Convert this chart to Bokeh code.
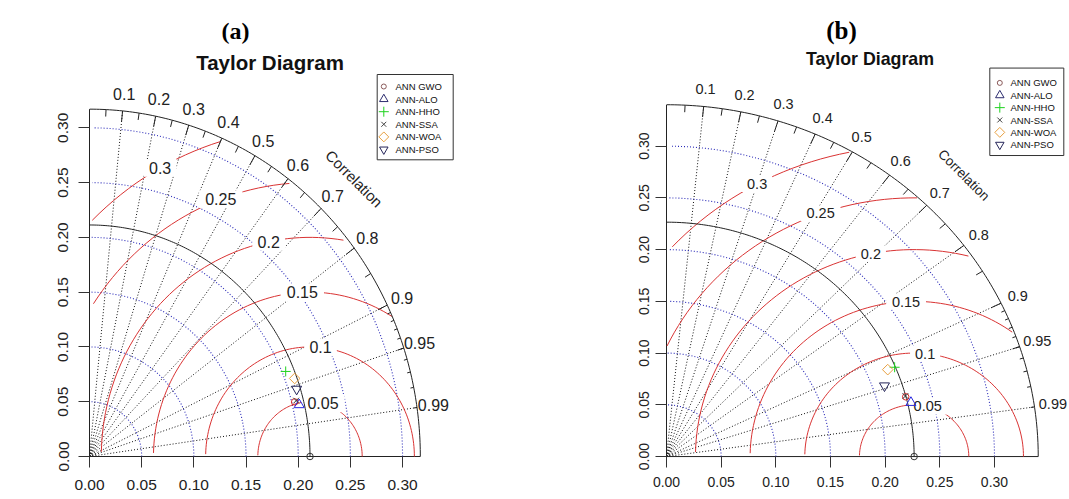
import numpy as np
from bokeh.plotting import figure
from bokeh.layouts import row
from bokeh.models import Label, Range1d, FixedTicker, NumeralTickFormatter
from bokeh.embed import file_html
from bokeh.resources import INLINE
from bokeh.core.properties import value

# ---------------- data ----------------
model_names = ["ANN GWO", "ANN-ALO", "ANN-HHO", "ANN-SSA", "ANN-WOA", "ANN-PSO"]

# panel (a)
ref_sd_a = 0.2113
outer_sd_a = 0.317
model_sd_a = [0.2028, 0.2064, 0.2034, 0.2045, 0.2091, 0.2078]
model_cor_a = [0.9694, 0.9735, 0.9243, 0.9684, 0.9402, 0.9552]

# panel (b)
ref_sd_b = 0.2265
outer_sd_b = 0.340
model_sd_b = [0.2263, 0.2296, 0.2258, 0.2262, 0.2191, 0.2108]
model_cor_b = [0.9669, 0.9738, 0.9241, 0.9660, 0.9236, 0.9459]

sd_ticks = [0.00, 0.05, 0.10, 0.15, 0.20, 0.25, 0.30]
cor_ticks = [0.1, 0.2, 0.3, 0.4, 0.5, 0.6, 0.7, 0.8, 0.9, 0.95, 0.99]
cor_tick_labels = ["0.1", "0.2", "0.3", "0.4", "0.5", "0.6", "0.7", "0.8", "0.9", "0.95", "0.99"]
rms_levels = [0.05, 0.10, 0.15, 0.20, 0.25, 0.30]
rms_labels = ["0.05", "0.1", "0.15", "0.2", "0.25", "0.3"]

# ---------------- styles ----------------
FONT = "Liberation Sans"
marker_styles = [
    dict(marker="circle", size=6.5, angle=0.0, color="#d62828", lcolor="#8a5a5a", lsize=5),
    dict(marker="triangle", size=10, angle=0.0, color="#2a2ae0", lcolor="#2e2e70", lsize=8.5),
    dict(marker="cross", size=10, angle=0.0, color="#1fd21f", lcolor="#1fd21f", lsize=10),
    dict(marker="x", size=8, angle=0.0, color="#333333", lcolor="#444444", lsize=7),
    dict(marker="square", size=7.5, angle=np.pi / 4, color="#e8a040", lcolor="#e8a040", lsize=7),
    dict(marker="inverted_triangle", size=10, angle=0.0, color="#26265a", lcolor="#26265a", lsize=8.5),
]

layout_a = dict(width=540, ox=89, kx=1043.6, oy=456, ky=1095.7, frame_left=84, frame_bottom=461,
                tick_fs="15.5px", xstand=12, ystand=10, corr_fs="16px", gamma_fs="16px", word_fs="15px",
                ylab=(18.3, 263), ylab_fs="16.5px", tag="(a)", tag_pos=(235, 30), tag_fs="24px",
                title_pos=(269.5, 62), title_fs="20.5px",
                leg_box=(376.7, 74, 452.7, 159.3), leg_first=86.0, leg_pitch=12.6,
                leg_mx=383.3, leg_tx=395.0, leg_fs="9.5px")
layout_b = dict(width=529, ox=126, kx=1093.3, oy=461, ky=1046.0, frame_left=121, frame_bottom=466,
                tick_fs="14px", xstand=9, ystand=6, corr_fs="14.5px", gamma_fs="14.5px", word_fs="13.5px",
                ylab=(66.7, 264), ylab_fs="14.6px", tag="(b)", tag_pos=(301, 30.7), tag_fs="25px",
                title_pos=(329.5, 59.3), title_fs="17.8px",
                leg_box=(449.3, 68.3, 523.3, 156.7), leg_first=83.3, leg_pitch=12.5,
                leg_mx=459.3, leg_tx=470.0, leg_fs="9.5px")

BLACK = "#222222"
RED = "#d93333"
BLUE = "#2a2ab8"


def make_panel(ref_sd, outer_sd, sds, cors, lay):
    W, H = lay["width"], 499
    ox, kx, oy, ky = lay["ox"], lay["kx"], lay["oy"], lay["ky"]
    fl, fb = lay["frame_left"], lay["frame_bottom"]

    def px2x(px):
        return (px - ox) / kx

    def py2y(py):
        return (oy - py) / ky

    p = figure(width=W, height=H,
               x_range=Range1d(px2x(fl), px2x(W)), y_range=Range1d(py2y(fb), py2y(0)),
               output_backend="svg", toolbar_location=None,
               min_border_left=fl, min_border_right=0, min_border_top=0,
               min_border_bottom=H - fb)
    p.grid.visible = False
    p.outline_line_color = None
    p.background_fill_color = "white"
    p.border_fill_color = "white"

    for ax in (p.xaxis[0], p.yaxis[0]):
        ax.ticker = FixedTicker(ticks=sd_ticks)
        ax.formatter = NumeralTickFormatter(format="0.00")
        ax.axis_line_color = None
        ax.major_tick_in = 5
        ax.major_tick_out = 6
        ax.major_tick_line_color = "#333333"
        ax.minor_tick_line_color = None
        ax.major_label_text_font = FONT
        ax.major_label_text_font_size = lay["tick_fs"]
        ax.major_label_text_color = "#222222"
    p.xaxis.major_label_standoff = lay["xstand"]
    p.yaxis.major_label_standoff = lay["ystand"]
    p.yaxis.major_label_orientation = "vertical"

    # correlation rays
    cxs = [[0, outer_sd * c] for c in cor_ticks]
    cys = [[0, outer_sd * np.sqrt(1 - c * c)] for c in cor_ticks]
    p.multi_line(cxs, cys, line_color="#111111", line_dash="1 2", line_width=1)

    # axes of the diagram
    p.multi_line([[0, outer_sd], [0, 0]], [[0, 0], [0, outer_sd]], line_color=BLACK, line_width=1)

    # standard deviation arcs
    t = np.arange(0, np.pi / 2, 0.03)
    sxs = [list(s * np.cos(t)) for s in sd_ticks[1:]]
    sys_ = [list(s * np.sin(t)) for s in sd_ticks[1:]]
    p.multi_line(sxs, sys_, line_color=BLUE, line_dash="1 2", line_width=1.1)

    # centred RMS contours
    tg = np.arange(0, np.pi, 0.03)
    labelpos = np.linspace(45, 70, len(rms_levels)).astype(int) - 1
    fs_px = float(lay["gamma_fs"].replace("px", ""))
    for g, glab, li in zip(rms_levels, rms_labels, labelpos):
        xc = np.cos(tg) * g + ref_sd
        yc = np.sin(tg) * g
        neg = np.where(xc < 0)[0]
        end = neg.min() if len(neg) else len(tg)
        outside = np.where(xc * xc + yc * yc > outer_sd * outer_sd)[0]
        start = outside.max() + 1 if len(outside) else 0
        p.line(list(xc[start:end]), list(yc[start:end]), line_color=RED, line_width=1)
        if xc[li] > 0:
            wbox = len(glab.replace(".", "")) * 0.556 * fs_px + 0.278 * fs_px
            p.rect([xc[li]], [yc[li]], width=wbox * 1.2 + 6, height=fs_px * 1.1,
                   width_units="screen", height_units="screen",
                   fill_color="white", line_color=None)
            p.text([xc[li]], [yc[li]], text=[glab], text_font=value(FONT),
                   text_font_size=lay["gamma_fs"], text_align="center",
                   text_baseline="middle", text_color="#222222")

    # outer arc
    to = np.arange(0, np.pi / 2, 0.01)
    p.line(list(outer_sd * np.cos(to)), list(outer_sd * np.sin(to)), line_color=BLACK, line_width=1)

    # ticks on outer arc
    big = np.arccos(np.arange(1, 10) / 10.0)
    med = np.arccos(np.arange(0.05, 0.96, 0.1))
    sml = np.arccos(np.arange(0.91, 0.995, 0.01))
    txs, tys = [], []
    for angs, frac in ((big, 0.97), (med, 0.98), (sml, 0.99)):
        for a in angs:
            txs.append([outer_sd * np.cos(a), frac * outer_sd * np.cos(a)])
            tys.append([outer_sd * np.sin(a), frac * outer_sd * np.sin(a)])
    p.multi_line(txs, tys, line_color=BLACK, line_width=1)

    # reference arc and point
    p.line(list(ref_sd * np.cos(to)), list(ref_sd * np.sin(to)), line_color=BLACK, line_width=1)
    p.scatter([ref_sd], [0], marker="circle", size=6.5, fill_color=None, line_color="#333333")

    # correlation labels
    ca = np.arccos(np.array(cor_ticks))
    p.text(list(1.05 * outer_sd * np.cos(ca)), list(1.05 * outer_sd * np.sin(ca)), text=cor_tick_labels,
           text_font=value(FONT), text_font_size=lay["corr_fs"], text_align="center",
           text_baseline="middle", text_color="#222222")
    p.text([0.8 * outer_sd], [0.8 * outer_sd], text=["Correlation"], angle=-np.pi / 4,
           text_font=value(FONT), text_font_size=lay["word_fs"], text_align="center",
           text_baseline="middle", text_color="#222222")

    # model points
    for sdv, cv, st in zip(sds, cors, marker_styles):
        p.scatter([sdv * cv], [sdv * np.sqrt(1 - cv * cv)], marker=st["marker"], size=st["size"],
                  angle=st["angle"], fill_color=None, line_color=st["color"], line_width=1)

    # legend box
    bl, bt, br, bb = lay["leg_box"]
    p.quad(left=[px2x(bl)], right=[px2x(br)], top=[py2y(bt)], bottom=[py2y(bb)],
           fill_color="white", line_color="#333333", line_width=1)
    for i, (name, st) in enumerate(zip(model_names, marker_styles)):
        yy = py2y(lay["leg_first"] + i * lay["leg_pitch"])
        p.scatter([px2x(lay["leg_mx"])], [yy], marker=st["marker"], size=st["lsize"], angle=st["angle"],
                  fill_color=None, line_color=st["lcolor"], line_width=1)
        p.text([px2x(lay["leg_tx"])], [yy], text=[name], text_font=value(FONT),
               text_font_size=lay["leg_fs"], text_align="left", text_baseline="middle",
               text_color="#111111")

    # titles and y label
    p.add_layout(Label(x=px2x(lay["tag_pos"][0]), y=py2y(lay["tag_pos"][1]), text=lay["tag"],
                       text_font="Liberation Serif", text_font_style="bold", text_font_size=lay["tag_fs"],
                       text_align="center", text_baseline="alphabetic", text_color="black"))
    p.add_layout(Label(x=px2x(lay["title_pos"][0]), y=py2y(lay["title_pos"][1]), text="Taylor Diagram",
                       text_font=FONT, text_font_style="bold", text_font_size=lay["title_fs"],
                       text_align="center", text_baseline="alphabetic", text_color="#111111"))
    p.add_layout(Label(x=px2x(lay["ylab"][0]), y=py2y(lay["ylab"][1]), text="Standard deviation",
                       angle=np.pi / 2, text_font=FONT, text_font_size=lay["ylab_fs"],
                       text_align="center", text_baseline="middle", text_color="#222222"))
    return p


pa = make_panel(ref_sd_a, outer_sd_a, model_sd_a, model_cor_a, layout_a)
pb = make_panel(ref_sd_b, outer_sd_b, model_sd_b, model_cor_b, layout_b)
layout = row(pa, pb)
open("out.html", "w").write(file_html(layout, INLINE))
